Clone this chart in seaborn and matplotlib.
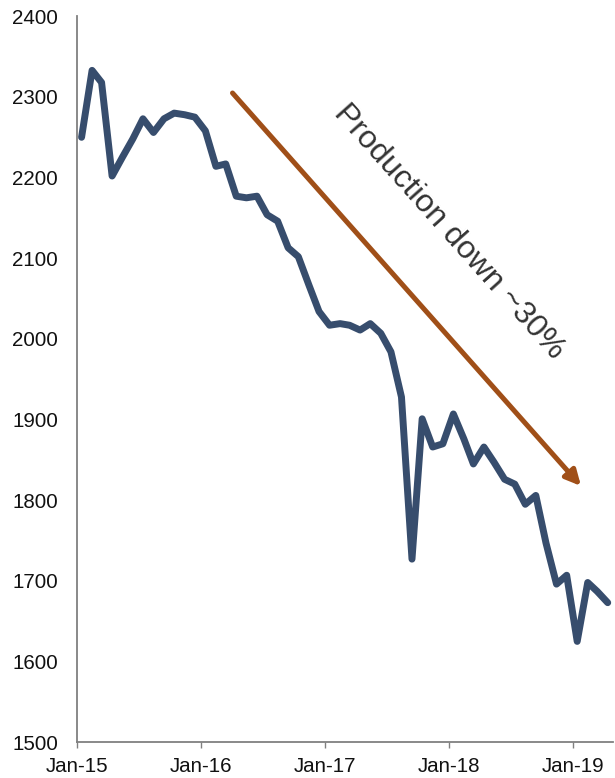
import matplotlib
matplotlib.use("Agg")
import matplotlib.pyplot as plt
import seaborn as sns
import pandas as pd

months = pd.date_range("2015-01-01", "2019-04-01", freq="MS").strftime("%Y-%m").tolist()
production = [
    2250, 2333, 2318, 2202, 2225, 2248, 2273, 2256, 2273, 2280, 2278, 2275,
    2258, 2214, 2217, 2177, 2175, 2177, 2154, 2146, 2113, 2102, 2067, 2034,
    2017, 2019, 2017, 2011, 2019, 2007, 1984, 1928, 1727, 1901, 1866, 1870,
    1907, 1876, 1845, 1866, 1847, 1826, 1820, 1795, 1806, 1747, 1696, 1707,
    1625, 1698, 1687, 1673,
]
yticks = [1500, 1600, 1700, 1800, 1900, 2000, 2100, 2200, 2300, 2400]
xtick_dates = ["2015-01-01", "2016-01-01", "2017-01-01", "2018-01-01", "2019-01-01"]
xtick_labels = ["Jan-15", "Jan-16", "Jan-17", "Jan-18", "Jan-19"]
annotation = "Production down ~30%"

sns.set_style("white")
plt.rcParams["font.family"] = ["Liberation Sans", "DejaVu Sans"]

df = pd.DataFrame({
    "date": pd.to_datetime(months) + pd.Timedelta(days=12),
    "production": production,
})

fig = plt.figure(figsize=(6.15, 7.78), dpi=100)
ax = fig.add_axes([0.126, 0.046, 0.871, 0.933])

sns.lineplot(data=df, x="date", y="production", ax=ax, color="#374D6D",
             linewidth=5.0, solid_joinstyle="round", solid_capstyle="round")

ax.set_ylim(1500, 2400)
ax.set_yticks(yticks)
ax.set_xlim(pd.Timestamp("2015-01-01"), pd.Timestamp("2019-04-29"))
ax.set_xticks(pd.to_datetime(xtick_dates))
ax.set_xticklabels(xtick_labels)
ax.set_xlabel("")
ax.set_ylabel("")

for side in ["top", "right"]:
    ax.spines[side].set_visible(False)
for side in ["left", "bottom"]:
    ax.spines[side].set_color("#808080")
    ax.spines[side].set_linewidth(1.3)

ax.tick_params(axis="y", length=0, pad=14, labelsize=14.8, labelcolor="#111111")
ax.tick_params(axis="x", length=4, width=1, color="#808080", direction="out",
               pad=7, labelsize=14.8, labelcolor="#111111", bottom=True)

def px_to_axes(px, py):
    fx = px / 615.0
    fy = 1 - py / 778.0
    return ((fx - 0.126) / 0.871, (fy - 0.046) / 0.933)

start = px_to_axes(232.5, 93)
end = px_to_axes(581, 486)
ax.annotate("", xy=end, xytext=start, xycoords="axes fraction",
            textcoords="axes fraction",
            arrowprops=dict(arrowstyle="-|>,head_length=0.9,head_width=0.45",
                            color="#A04F18", linewidth=3.6,
                            shrinkA=0, shrinkB=0))

tx, ty = px_to_axes(449, 232)
ax.text(tx, ty, annotation, transform=ax.transAxes, rotation=-48.2,
        rotation_mode="anchor", ha="center", va="center", fontsize=23,
        color="#333333")

fig.savefig("out.png", dpi=100)
